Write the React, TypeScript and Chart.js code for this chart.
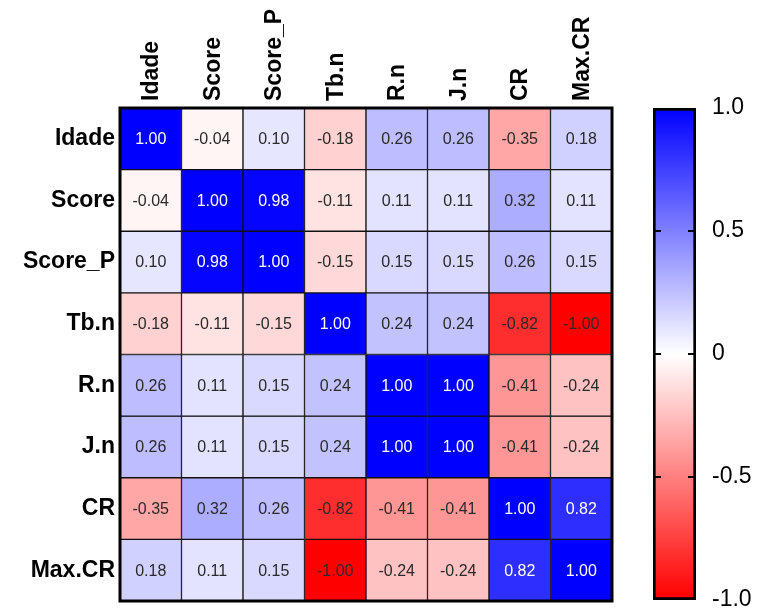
import React, { useEffect, useRef } from "react";
import { Chart, registerables } from "chart.js";

Chart.register(...registerables);

const FONT = "'Liberation Sans', Arial, Helvetica, sans-serif";

const variables = ["Idade", "Score", "Score_P", "Tb.n", "R.n", "J.n", "CR", "Max.CR"];

const rowIdade = [1.0, -0.04, 0.1, -0.18, 0.26, 0.26, -0.35, 0.18];
const rowScore = [-0.04, 1.0, 0.98, -0.11, 0.11, 0.11, 0.32, 0.11];
const rowScoreP = [0.1, 0.98, 1.0, -0.15, 0.15, 0.15, 0.26, 0.15];
const rowTbn = [-0.18, -0.11, -0.15, 1.0, 0.24, 0.24, -0.82, -1.0];
const rowRn = [0.26, 0.11, 0.15, 0.24, 1.0, 1.0, -0.41, -0.24];
const rowJn = [0.26, 0.11, 0.15, 0.24, 1.0, 1.0, -0.41, -0.24];
const rowCR = [-0.35, 0.32, 0.26, -0.82, -0.41, -0.41, 1.0, 0.82];
const rowMaxCR = [0.18, 0.11, 0.15, -1.0, -0.24, -0.24, 0.82, 1.0];

const matrix = [rowIdade, rowScore, rowScoreP, rowTbn, rowRn, rowJn, rowCR, rowMaxCR];

const colorbarTicks = [1, 0.5, 0, -0.5, -1];
const colorbarTickLabels = ["1.0", "0.5", "0", "-0.5", "-1.0"];

function cellColor(v: number): string {
  if (v >= 0) {
    const c = Math.round(255 * (1 - v));
    return `rgb(${c},${c},255)`;
  }
  const c = Math.round(255 * (1 + v));
  return `rgb(255,${c},${c})`;
}

const cellTextPlugin = {
  id: "cellText",
  afterDatasetsDraw(chart: any) {
    const ctx = chart.ctx;
    ctx.save();
    ctx.font = `16px ${FONT}`;
    ctx.textAlign = "center";
    ctx.textBaseline = "middle";
    chart.data.datasets.forEach((ds: any, r: number) => {
      const meta = chart.getDatasetMeta(r);
      meta.data.forEach((el: any, c: number) => {
        const v = matrix[r][c];
        ctx.fillStyle = v > 0.5 ? "#ffffff" : "#2a2a2a";
        ctx.fillText(v.toFixed(2), el.x, (el.y + el.base) / 2 + 1);
      });
    });
    const a = chart.chartArea;
    ctx.strokeStyle = "#000";
    ctx.lineWidth = 3;
    ctx.strokeRect(a.left, a.top, a.right - a.left, a.bottom - a.top);
    ctx.restore();
  },
};

const colorbarTickPlugin = {
  id: "cbTicks",
  afterDatasetsDraw(chart: any) {
    const ctx = chart.ctx;
    const a = chart.chartArea;
    const y = chart.scales.y;
    ctx.save();
    ctx.strokeStyle = "#000";
    ctx.lineWidth = 2;
    colorbarTicks.forEach((v) => {
      if (Math.abs(v) === 1) return;
      const py = Math.round(y.getPixelForValue(v));
      ctx.beginPath();
      ctx.moveTo(a.left, py);
      ctx.lineTo(a.left + 8, py);
      ctx.moveTo(a.right - 8, py);
      ctx.lineTo(a.right, py);
      ctx.stroke();
    });
    ctx.restore();
  },
};

export default function App() {
  const mainRef = useRef<HTMLCanvasElement>(null);
  const barRef = useRef<HTMLCanvasElement>(null);

  useEffect(() => {
    Chart.defaults.font.family = FONT;
    const main = new Chart(mainRef.current as HTMLCanvasElement, {
      type: "bar",
      data: {
        labels: variables,
        datasets: matrix.map((row, r) => ({
          label: variables[r],
          data: row.map(() => [r, r + 1]),
          backgroundColor: row.map((v) => cellColor(v)),
          borderColor: "#111",
          borderWidth: 1,
          borderSkipped: false,
          barPercentage: 1,
          categoryPercentage: 1,
          grouped: false,
        })),
      },
      options: {
        responsive: false,
        animation: false,
        layout: { padding: { left: 0, top: 0, right: 28, bottom: 15 } },
        plugins: { legend: { display: false }, tooltip: { enabled: false } },
        scales: {
          x: {
            position: "top",
            grid: { display: false, drawTicks: false },
            border: { display: false },
            ticks: {
              autoSkip: false,
              minRotation: 90,
              maxRotation: 90,
              padding: 7,
              labelOffset: 29,
              color: "#000",
              font: { size: 23, weight: "bold", family: FONT },
            },
            afterFit: (s: any) => {
              s.height = 108;
              s.paddingLeft = 0;
              s.paddingRight = 0;
            },
          },
          y: {
            min: 0,
            max: 8,
            reverse: true,
            grid: { display: false, drawTicks: false },
            border: { display: false },
            afterBuildTicks: (s: any) => {
              s.ticks = variables.map((_, i) => ({ value: i + 0.5 }));
            },
            ticks: {
              padding: 5,
              color: "#000",
              font: { size: 23, weight: "bold", family: FONT },
              callback: (v: any) => variables[Math.floor(Number(v))],
            },
            afterFit: (s: any) => {
              s.width = 120;
              s.paddingTop = 0;
              s.paddingBottom = 0;
            },
          },
        },
      } as any,
      plugins: [cellTextPlugin],
    });

    const bar = new Chart(barRef.current as HTMLCanvasElement, {
      type: "bar",
      data: {
        labels: ["scale"],
        datasets: [
          {
            data: [[-1, 1]] as any,
            backgroundColor: (c: any) => {
              const chart = c.chart;
              if (!chart.chartArea) return "#fff";
              const ys = chart.scales.y;
              const g = chart.ctx.createLinearGradient(0, ys.getPixelForValue(1), 0, ys.getPixelForValue(-1));
              g.addColorStop(0, cellColor(1));
              g.addColorStop(0.5, cellColor(0));
              g.addColorStop(1, cellColor(-1));
              return g;
            },
            borderColor: "#000",
            borderWidth: 3,
            borderSkipped: false,
            barPercentage: 1,
            categoryPercentage: 1,
          },
        ],
      },
      options: {
        responsive: false,
        animation: false,
        layout: { padding: { left: 13, top: 108, right: 0, bottom: 16 } },
        plugins: { legend: { display: false }, tooltip: { enabled: false } },
        scales: {
          x: { display: false },
          y: {
            position: "right",
            min: -1,
            max: 1,
            grid: { display: false, drawTicks: false },
            border: { display: false },
            afterBuildTicks: (s: any) => {
              s.ticks = colorbarTicks.map((v) => ({ value: v }));
            },
            ticks: {
              padding: 16,
              color: "#000",
              font: { size: 23, family: FONT },
              callback: (v: any) => colorbarTickLabels[colorbarTicks.indexOf(Number(v))],
            },
            afterFit: (s: any) => {
              s.width = 66;
              s.paddingTop = 0;
              s.paddingBottom = 0;
            },
          },
        },
      } as any,
      plugins: [colorbarTickPlugin],
    });

    return () => {
      main.destroy();
      bar.destroy();
    };
  }, []);

  return (
    <div style={{ position: "fixed", left: 0, top: 0, width: 762, height: 616, background: "#fff" }}>
      <canvas
        ref={mainRef}
        width={640}
        height={616}
        style={{ position: "absolute", left: 0, top: 0, width: 640, height: 616 }}
      />
      <canvas
        ref={barRef}
        width={122}
        height={616}
        style={{ position: "absolute", left: 640, top: 0, width: 122, height: 616 }}
      />
    </div>
  );
}
